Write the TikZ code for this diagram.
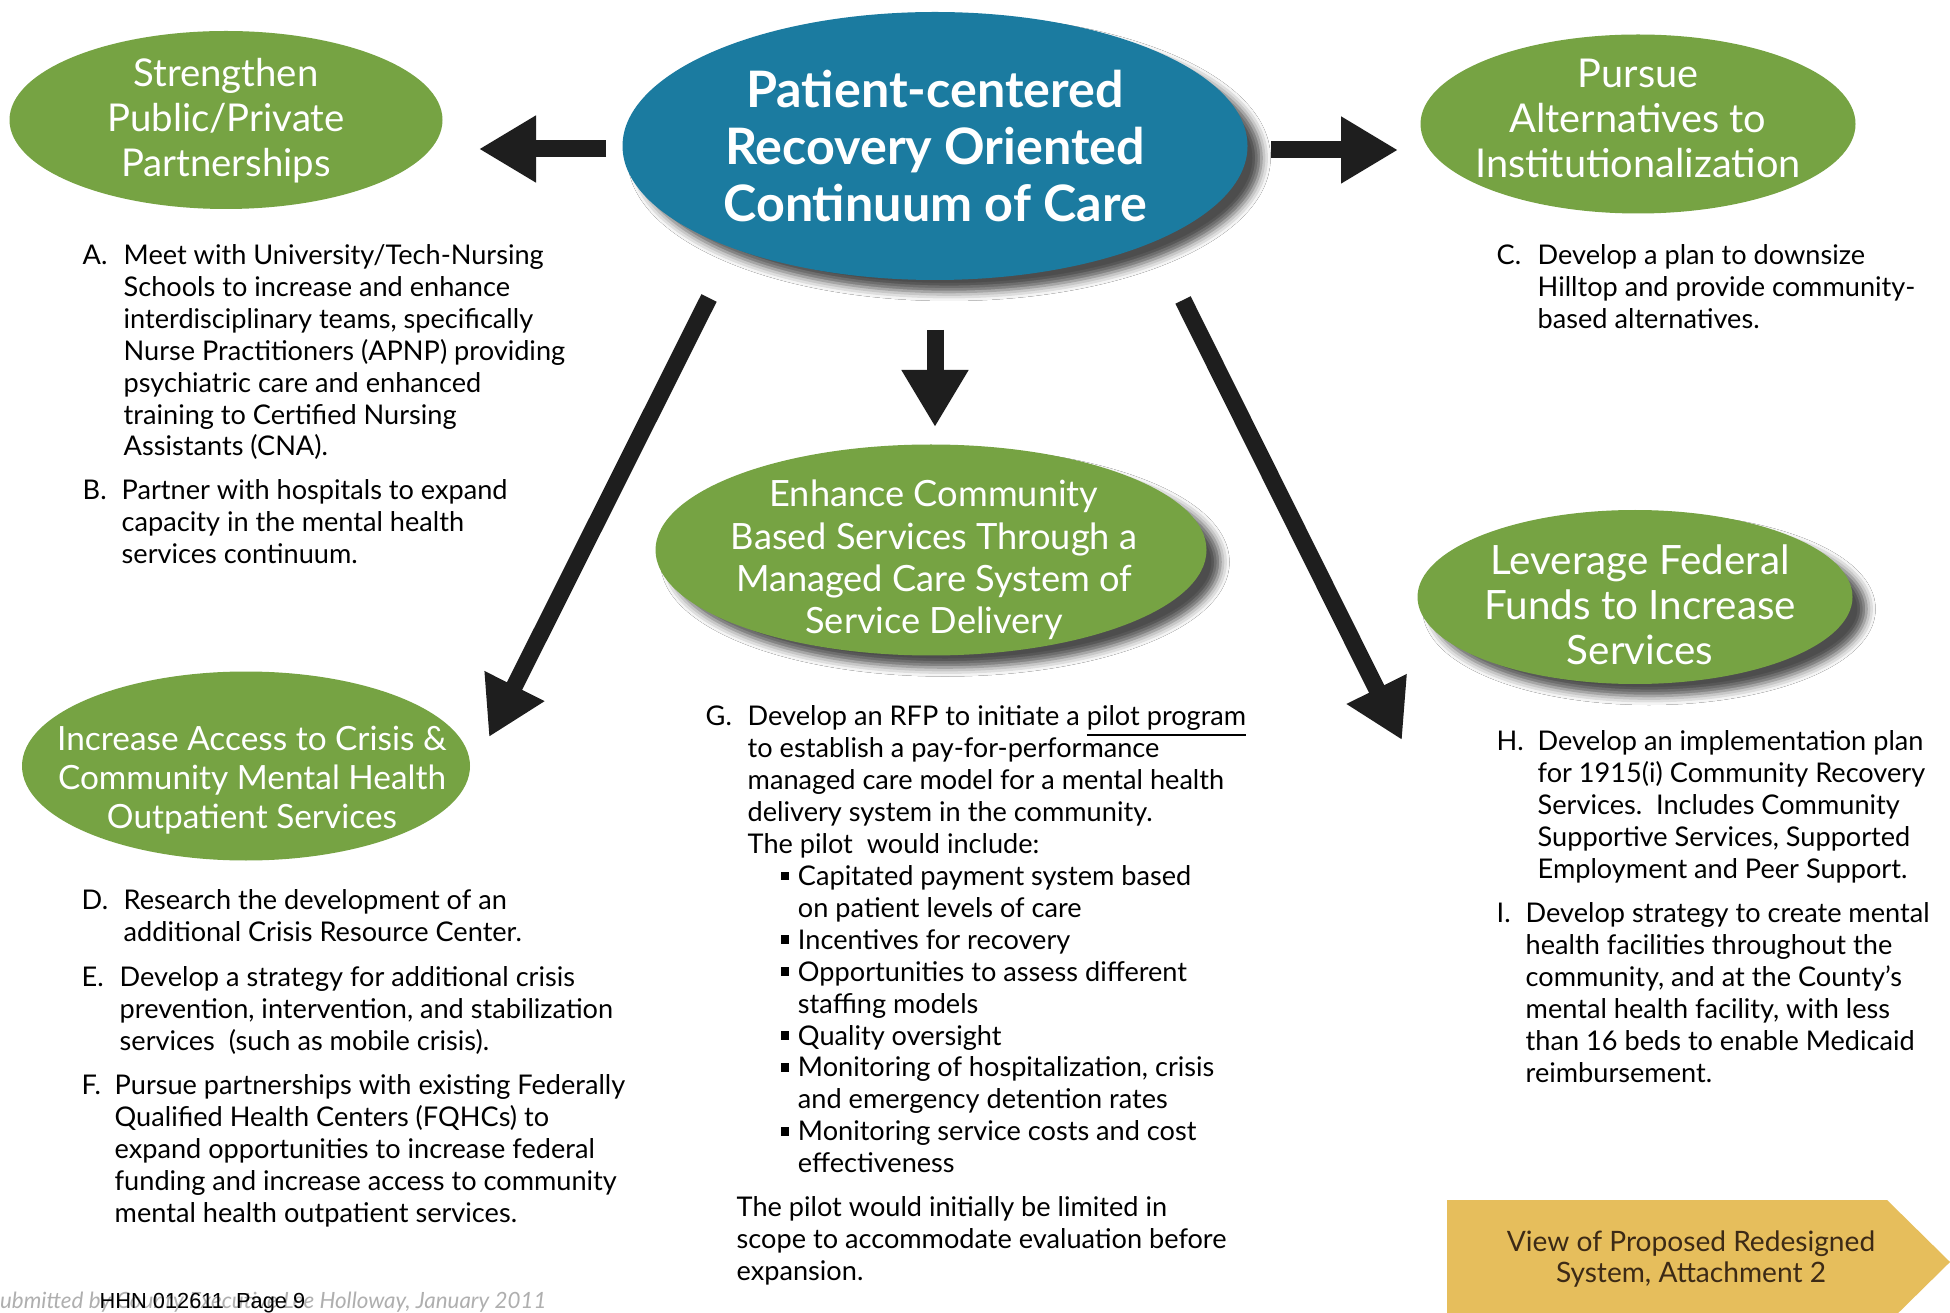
\documentclass[tikz,border=0pt]{standalone}
\usepackage{fontspec}
\setmainfont{Lato}
\newfontfamily\stampfont{Liberation Sans}
\usetikzlibrary{shapes.geometric,arrows.meta,shadows.blur}

\definecolor{leafgreen}{RGB}{118,163,67}
\definecolor{hubblue}{RGB}{27,123,160}
\definecolor{arrowink}{RGB}{30,30,30}
\definecolor{tabgold}{RGB}{230,190,92}
\definecolor{tabbrown}{RGB}{60,42,22}
\definecolor{notegray}{RGB}{175,175,175}

\newcommand{\bodysize}{\fontsize{7.72}{9.1}\selectfont}
\newcommand{\sqbullet}{\raisebox{0.2em}{\rule{0.3em}{0.3em}}}

\begin{document}
\begin{tikzpicture}[x=0.1mm, y=-0.1mm,
	goal/.style = {shape=ellipse, fill=leafgreen, inner sep=0pt},
	goaltext/.style = {text=white, align=center},
	softshadow/.style = {blur shadow={shadow xshift=1.4mm, shadow yshift=-1.2mm, shadow blur radius=0.9mm, shadow opacity=70}},
	bigarrow/.style = {line width=1.7mm, draw=arrowink, -{Triangle[length=5.7mm, width=6.3mm]}},
	item/.style = {anchor=north west, align=left, inner sep=0pt, font=\bodysize},
	tag/.style = {anchor=north west, inner sep=0pt, font=\bodysize},
	tabtext/.style = {inner sep=0pt, text=tabbrown, align=center, font=\fontsize{8}{8.9}\selectfont}]
	\fill[white] (0,0) rectangle (1950,1313);
	\useasboundingbox (0,0) rectangle (1950,1313);

	\node[goal, softshadow, fill=hubblue, minimum width=62.5mm, minimum height=26.8mm,
		label={[goaltext, font=\bfseries\fontsize{14.3}{16.3}\selectfont]center:{Patient-centered\\Recovery Oriented\\Continuum of Care}}] (core) at (935,146) {};
	\node[goal, minimum width=43.3mm, minimum height=17.8mm,
		label={[goaltext, font=\fontsize{10.9}{12.8}\selectfont, yshift=-0.1mm]center:{Strengthen\\Public/Private\\Partnerships}}] (partner) at (226,120) {};
	\node[goal, minimum width=43.5mm, minimum height=17.9mm,
		label={[goaltext, font=\fontsize{11.3}{12.8}\selectfont, yshift=0.6mm]center:{Pursue\\Alternatives to\\Institutionalization}}] (altern) at (1638,124) {};
	\node[goal, softshadow, minimum width=55.1mm, minimum height=21.1mm,
		label={[goaltext, font=\fontsize{10.3}{12}\selectfont, yshift=-1mm, xshift=0.3mm]center:{Enhance Community\\Based Services Through a\\Managed Care System of\\Service Delivery}}] (managed) at (931,550) {};
	\node[goal, minimum width=44.8mm, minimum height=18.9mm,
		label={[goaltext, font=\fontsize{9.5}{11.1}\selectfont, yshift=-1.4mm, xshift=0.6mm]center:{Increase Access to Crisis \&\\Community Mental Health\\Outpatient Services}}] (crisis) at (246,766) {};
	\node[goal, softshadow, minimum width=43.5mm, minimum height=17.4mm,
		label={[goaltext, font=\fontsize{11.5}{12.8}\selectfont, yshift=-0.8mm, xshift=0.5mm]center:{Leverage Federal\\Funds to Increase\\Services}}] (federal) at (1635,597) {};

	\coordinate (leftTail) at (606,149);
	\coordinate (leftTip) at (479,149);
	\coordinate (rightTail) at (1271,150);
	\coordinate (rightTip) at (1398,150);
	\coordinate (downTail) at (935,330);
	\coordinate (downTip) at (935,427);
	\coordinate (slantLTail) at (709,298);
	\coordinate (slantLTip) at (489,737);
	\coordinate (slantRTail) at (1183,300);
	\coordinate (slantRTip) at (1402,740);
	\draw[bigarrow] (leftTail) -- (leftTip);
	\draw[bigarrow] (rightTail) -- (rightTip);
	\draw[bigarrow] (downTail) -- (downTip);
	\draw[bigarrow] (slantLTail) -- (slantLTip);
	\draw[bigarrow] (slantRTail) -- (slantRTip);

	\node[tag] (tagA) at (82,241) {\strut A.};
	\node[item] (itemA) at (123,241) {\strut Meet with University/Tech-Nursing\\Schools to increase and enhance\\interdisciplinary teams, specifically\\Nurse Practitioners (APNP) providing\\psychiatric care and enhanced\\training to Certified Nursing\\Assistants (CNA).};
	\node[tag] (tagB) at (82,476) {\strut B.};
	\node[item] (itemB) at (121,476) {\strut Partner with hospitals to expand\\capacity in the mental health\\services continuum.};
	\node[tag] (tagC) at (1496,241) {\strut C.};
	\node[item] (itemC) at (1537,241) {\strut Develop a plan to downsize\\Hilltop and provide community-\\based alternatives.};
	\node[tag] (tagD) at (81,886) {\strut D.};
	\node[item] (itemD) at (123,886) {\strut Research the development of an\\additional Crisis Resource Center.};
	\node[tag] (tagE) at (81,963) {\strut E.};
	\node[item] (itemE) at (119,963) {\strut Develop a strategy for additional crisis\\prevention, intervention, and stabilization\\services\ \ (such as mobile crisis).};
	\node[tag] (tagF) at (81,1071) {\strut F.};
	\node[item] (itemF) at (114,1071) {\strut Pursue partnerships with existing Federally\\Qualified Health Centers (FQHCs) to\\expand opportunities to increase federal\\funding and increase access to community\\mental health outpatient services.};
	\node[tag] (tagG) at (705,702) {\strut G.};
	\node[item] (itemG) at (747,702) {\strut Develop an RFP to initiate a \underline{pilot program}\\to establish a pay-for-performance\\managed care model for a mental health\\delivery system in the community.\\The pilot\ \ would include:};
	\node[item] (pilotlist) at (780,862) {\begin{tabular}{@{}l@{\hspace{2.6pt}}l@{}}
		\sqbullet & Capitated payment system based\\
		& on patient levels of care\\
		\sqbullet & Incentives for recovery\\
		\sqbullet & Opportunities to assess different\\
		& staffing models\\
		\sqbullet & Quality oversight\\
		\sqbullet & Monitoring of hospitalization, crisis\\
		& and emergency detention rates\\
		\sqbullet & Monitoring service costs and cost\\
		& effectiveness
	\end{tabular}};
	\node[item] (pilotscope) at (736,1193) {\strut The pilot would initially be limited in\\scope to accommodate evaluation before\\expansion.};
	\node[tag] (tagH) at (1496,727) {\strut H.};
	\node[item] (itemH) at (1537,727) {\strut Develop an implementation plan\\for 1915(i) Community Recovery\\Services.\ \ Includes Community\\Supportive Services, Supported\\Employment and Peer Support.};
	\node[tag] (tagI) at (1496,899) {\strut I.};
	\node[item] (itemI) at (1525,899) {\strut Develop strategy to create mental\\health facilities throughout the\\community, and at the County’s\\mental health facility, with less\\than 16 beds to enable Medicaid\\reimbursement.};

	\fill[tabgold] (1447,1200) -- (1887,1200) -- (1950,1262) -- (1887,1324) -- (1447,1324) -- cycle;
	\node[tabtext] (viewtab) at (1691,1259) {View of Proposed Redesigned\\System, Attachment 2};

	\node[anchor=base east, inner sep=0pt, text=notegray, font=\itshape\fontsize{6.37}{7}\selectfont] (submitted) at (547,1308) {Submitted by County Executive Lee Holloway, January 2011};
	\node[anchor=base west, inner sep=0pt, font=\stampfont\fontsize{6.2}{7}\selectfont] (stamp) at (99,1308) {HHN 012611\ \ Page 9};
\end{tikzpicture}
\end{document}
